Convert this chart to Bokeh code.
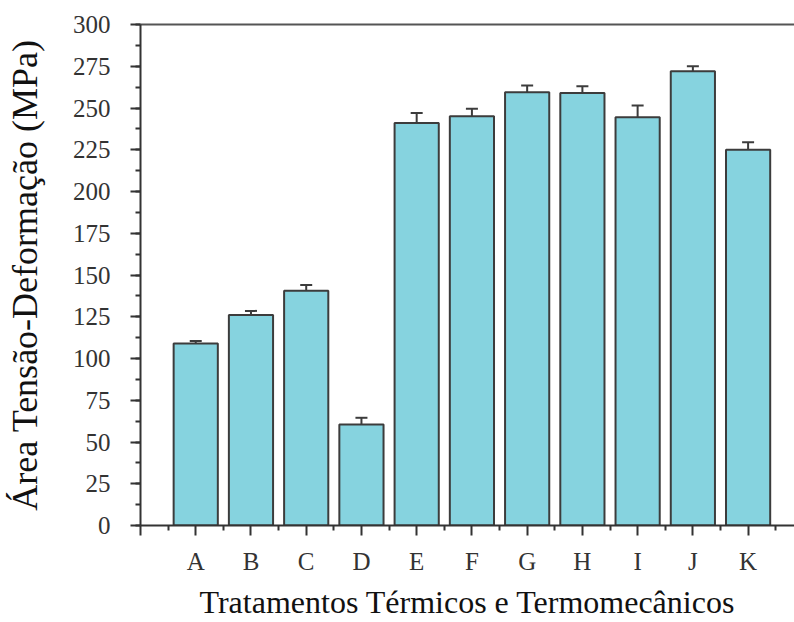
from bokeh.plotting import figure
from bokeh.models import (Range1d, FixedTicker, SingleIntervalTicker, LinearAxis,
                          ColumnDataSource, Whisker, TeeHead)
from bokeh.embed import file_html
from bokeh.resources import INLINE

categories = ["A", "B", "C", "D", "E", "F", "G", "H", "I", "J", "K"]
values = [109, 126, 140.5, 60.5, 241, 245, 259.5, 259, 244.5, 272, 225]
errors = [1.5, 2.5, 3.5, 4, 6, 4.5, 4, 4, 7, 3, 4.5]

xs = [i + 1 for i in range(len(categories))]
src = ColumnDataSource(dict(
    x=xs, top=values,
    upper=[v + e for v, e in zip(values, errors)],
))

FONT = "Liberation Serif"
AX = "#333333"

p = figure(width=794, height=622, output_backend="svg", toolbar_location=None,
           x_range=Range1d(0, 11.84), y_range=Range1d(0, 300),
           min_border_left=140, min_border_right=0, min_border_top=24,
           min_border_bottom=97, x_axis_label="Tratamentos Térmicos e Termomecânicos",
           y_axis_label="Área Tensão-Deformação (MPa)")
p.outline_line_color = None
p.grid.visible = False
p.background_fill_color = "white"
p.border_fill_color = "white"

p.vbar(x="x", top="top", width=0.8, source=src, fill_color="#86d3df",
       line_color="#3c3c3c", line_width=2)

wh = Whisker(base="x", upper="upper", lower="top", source=src,
             line_color="#3c3c3c", line_width=2,
             upper_head=TeeHead(size=12, line_color="#3c3c3c", line_width=2),
             lower_head=None, level="overlay")
p.add_layout(wh)

# y axis
p.yaxis.ticker = SingleIntervalTicker(interval=25, num_minor_ticks=2)
p.yaxis.axis_line_color = AX
p.yaxis.axis_line_width = 2
p.yaxis.major_tick_line_color = AX
p.yaxis.major_tick_line_width = 2
p.yaxis.major_tick_in = 0
p.yaxis.major_tick_out = 10
p.yaxis.minor_tick_line_color = AX
p.yaxis.minor_tick_line_width = 2
p.yaxis.minor_tick_in = 0
p.yaxis.minor_tick_out = 5
p.yaxis.major_label_text_font = FONT
p.yaxis.major_label_text_font_size = "25px"
p.yaxis.major_label_text_color = "#333333"
p.yaxis.major_label_standoff = 20
p.yaxis.axis_label_text_font = FONT
p.yaxis.axis_label_text_font_size = "36px"
p.yaxis.axis_label_text_font_style = "normal"
p.yaxis.axis_label_text_color = "#111111"
p.yaxis.axis_label_standoff = 25

# x axis
p.xaxis.ticker = FixedTicker(ticks=[0] + xs,
                             minor_ticks=[x - 0.5 for x in xs] + [xs[-1] + 0.5])
p.xaxis.major_label_overrides = {0: ""} | {x: c for x, c in zip(xs, categories)}
p.xaxis.axis_line_color = AX
p.xaxis.axis_line_width = 2
p.xaxis.major_tick_line_color = AX
p.xaxis.major_tick_line_width = 2
p.xaxis.major_tick_in = 0
p.xaxis.major_tick_out = 10
p.xaxis.minor_tick_line_color = AX
p.xaxis.minor_tick_line_width = 2
p.xaxis.minor_tick_in = 0
p.xaxis.minor_tick_out = 5
p.xaxis.major_label_text_font = FONT
p.xaxis.major_label_text_font_size = "25px"
p.xaxis.major_label_text_color = "#333333"
p.xaxis.major_label_standoff = 12
p.xaxis.axis_label_text_font = FONT
p.xaxis.axis_label_text_font_size = "32px"
p.xaxis.axis_label_text_font_style = "normal"
p.xaxis.axis_label_text_color = "#111111"
p.xaxis.axis_label_standoff = 6

# top spine
top = LinearAxis(ticker=FixedTicker(ticks=[]), major_label_text_font_size="0px",
                 axis_line_color="#555555", axis_line_width=2,
                 major_tick_line_color=None, minor_tick_line_color=None)
p.add_layout(top, "above")

open("out.html", "w").write(file_html(p, INLINE))
